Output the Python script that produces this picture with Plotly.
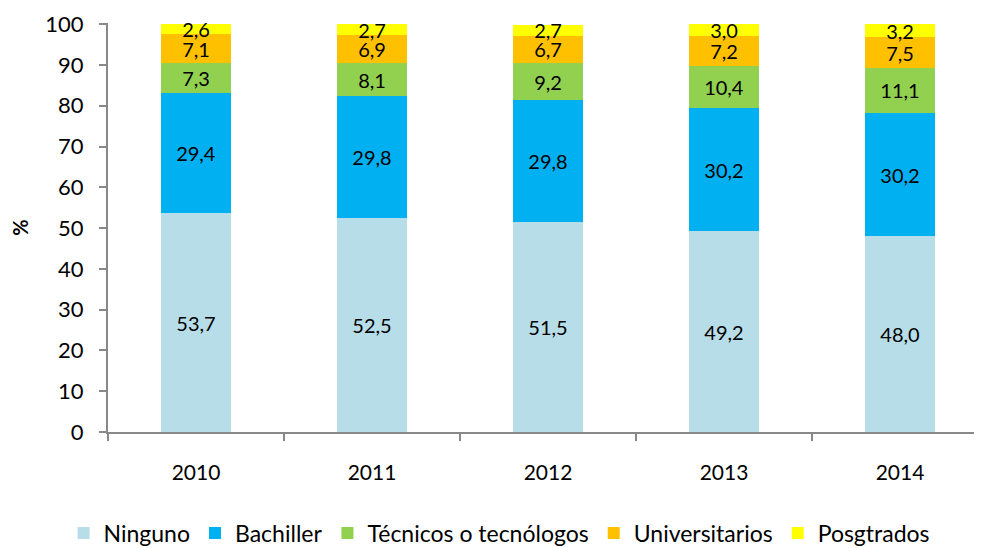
import plotly.graph_objects as go

years = ["2010", "2011", "2012", "2013", "2014"]
series_names = ["Ninguno", "Bachiller", "Técnicos o tecnólogos", "Universitarios", "Posgtrados"]
ninguno = [53.7, 52.5, 51.5, 49.2, 48.0]
bachiller = [29.4, 29.8, 29.8, 30.2, 30.2]
tecnicos = [7.3, 8.1, 9.2, 10.4, 11.1]
universitarios = [7.1, 6.9, 6.7, 7.2, 7.5]
posgrados = [2.6, 2.7, 2.7, 3.0, 3.2]
y_ticks = [0, 10, 20, 30, 40, 50, 60, 70, 80, 90, 100]

colors = ["#B7DDE8", "#00B0F0", "#92D050", "#FFC000", "#FFFF00"]
FONT = "Lato, Open Sans, sans-serif"

fig = go.Figure()
for name, vals, col in zip(series_names, [ninguno, bachiller, tecnicos, universitarios, posgrados], colors):
    fig.add_trace(go.Bar(
        x=years, y=vals, name=name, marker=dict(color=col, line=dict(width=0)),
        text=[f"{v:.1f}".replace(".", ",") for v in vals],
        textposition="inside", insidetextanchor="middle",
        textfont=dict(color="black", size=20, family=FONT),
        constraintext="none", cliponaxis=False,
    ))

fig.update_layout(
    barmode="stack", bargap=0.6,
    width=982, height=548,
    margin=dict(l=100, r=2, t=15, b=124),
    plot_bgcolor="white", paper_bgcolor="white",
    font=dict(family=FONT, size=21, color="black"),
    uniformtext=dict(minsize=20, mode="show"),
    showlegend=True,
    legend=dict(orientation="h", x=0.445, xanchor="center",
                y=-0.247, yanchor="middle",
                font=dict(size=23), traceorder="normal", itemwidth=30),
    xaxis=dict(type="category", showline=True, linecolor="#888", linewidth=2,
               ticks="outside", tickson="boundaries", ticklen=7, tickcolor="#888",
               tickwidth=1.5, tickfont=dict(size=21), automargin=False,
               ticklabelstandoff=21, tickangle=0),
    yaxis=dict(range=[0, 100.3], tickvals=y_ticks, showline=True, linecolor="#888", linewidth=2,
               ticks="outside", ticklen=7, tickcolor="#888", tickwidth=1.5,
               showgrid=False, zeroline=False, automargin=False,
               tickfont=dict(size=22), ticklabelstandoff=11,
               title=dict(text="<b>%</b>", font=dict(size=20), standoff=60)),
)
fig.write_html("out.html")
